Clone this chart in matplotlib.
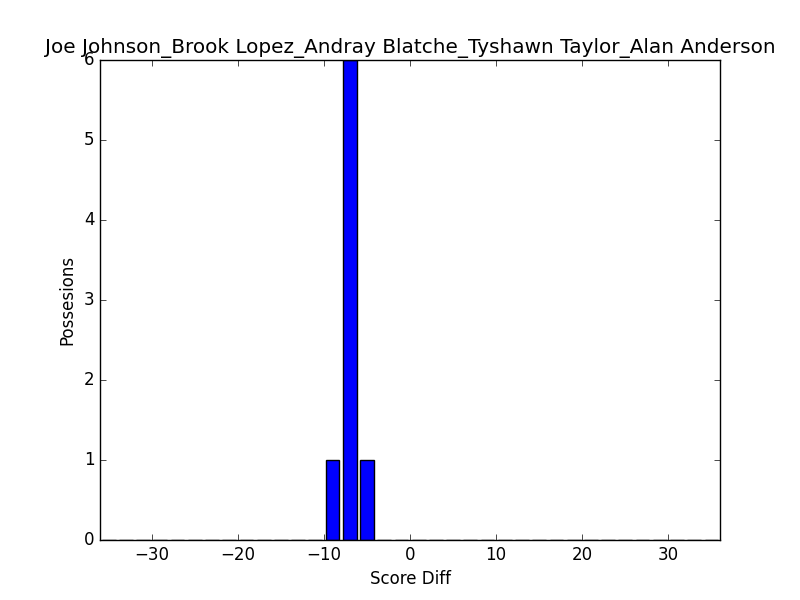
import matplotlib
matplotlib.use("Agg")
import matplotlib.pyplot as plt
import numpy as np

plt.style.use('classic')

score_diff = list(range(-35, 36, 2))
counts = [0]*len(score_diff)
counts[score_diff.index(-9)] = 1
counts[score_diff.index(-7)] = 6
counts[score_diff.index(-5)] = 1

fig, ax = plt.subplots(figsize=(8, 6), dpi=100)
ax.bar(score_diff, counts, width=1.6, align='center', color='blue', edgecolor='black')
ax.set_xlim(-36, 36)
ax.set_ylim(0, 6)
ax.set_xlabel('Score Diff')
ax.set_ylabel('Possesions')
ax.set_title('Joe Johnson_Brook Lopez_Andray Blatche_Tyshawn Taylor_Alan Anderson')
fig.savefig('out.png', dpi=100)
